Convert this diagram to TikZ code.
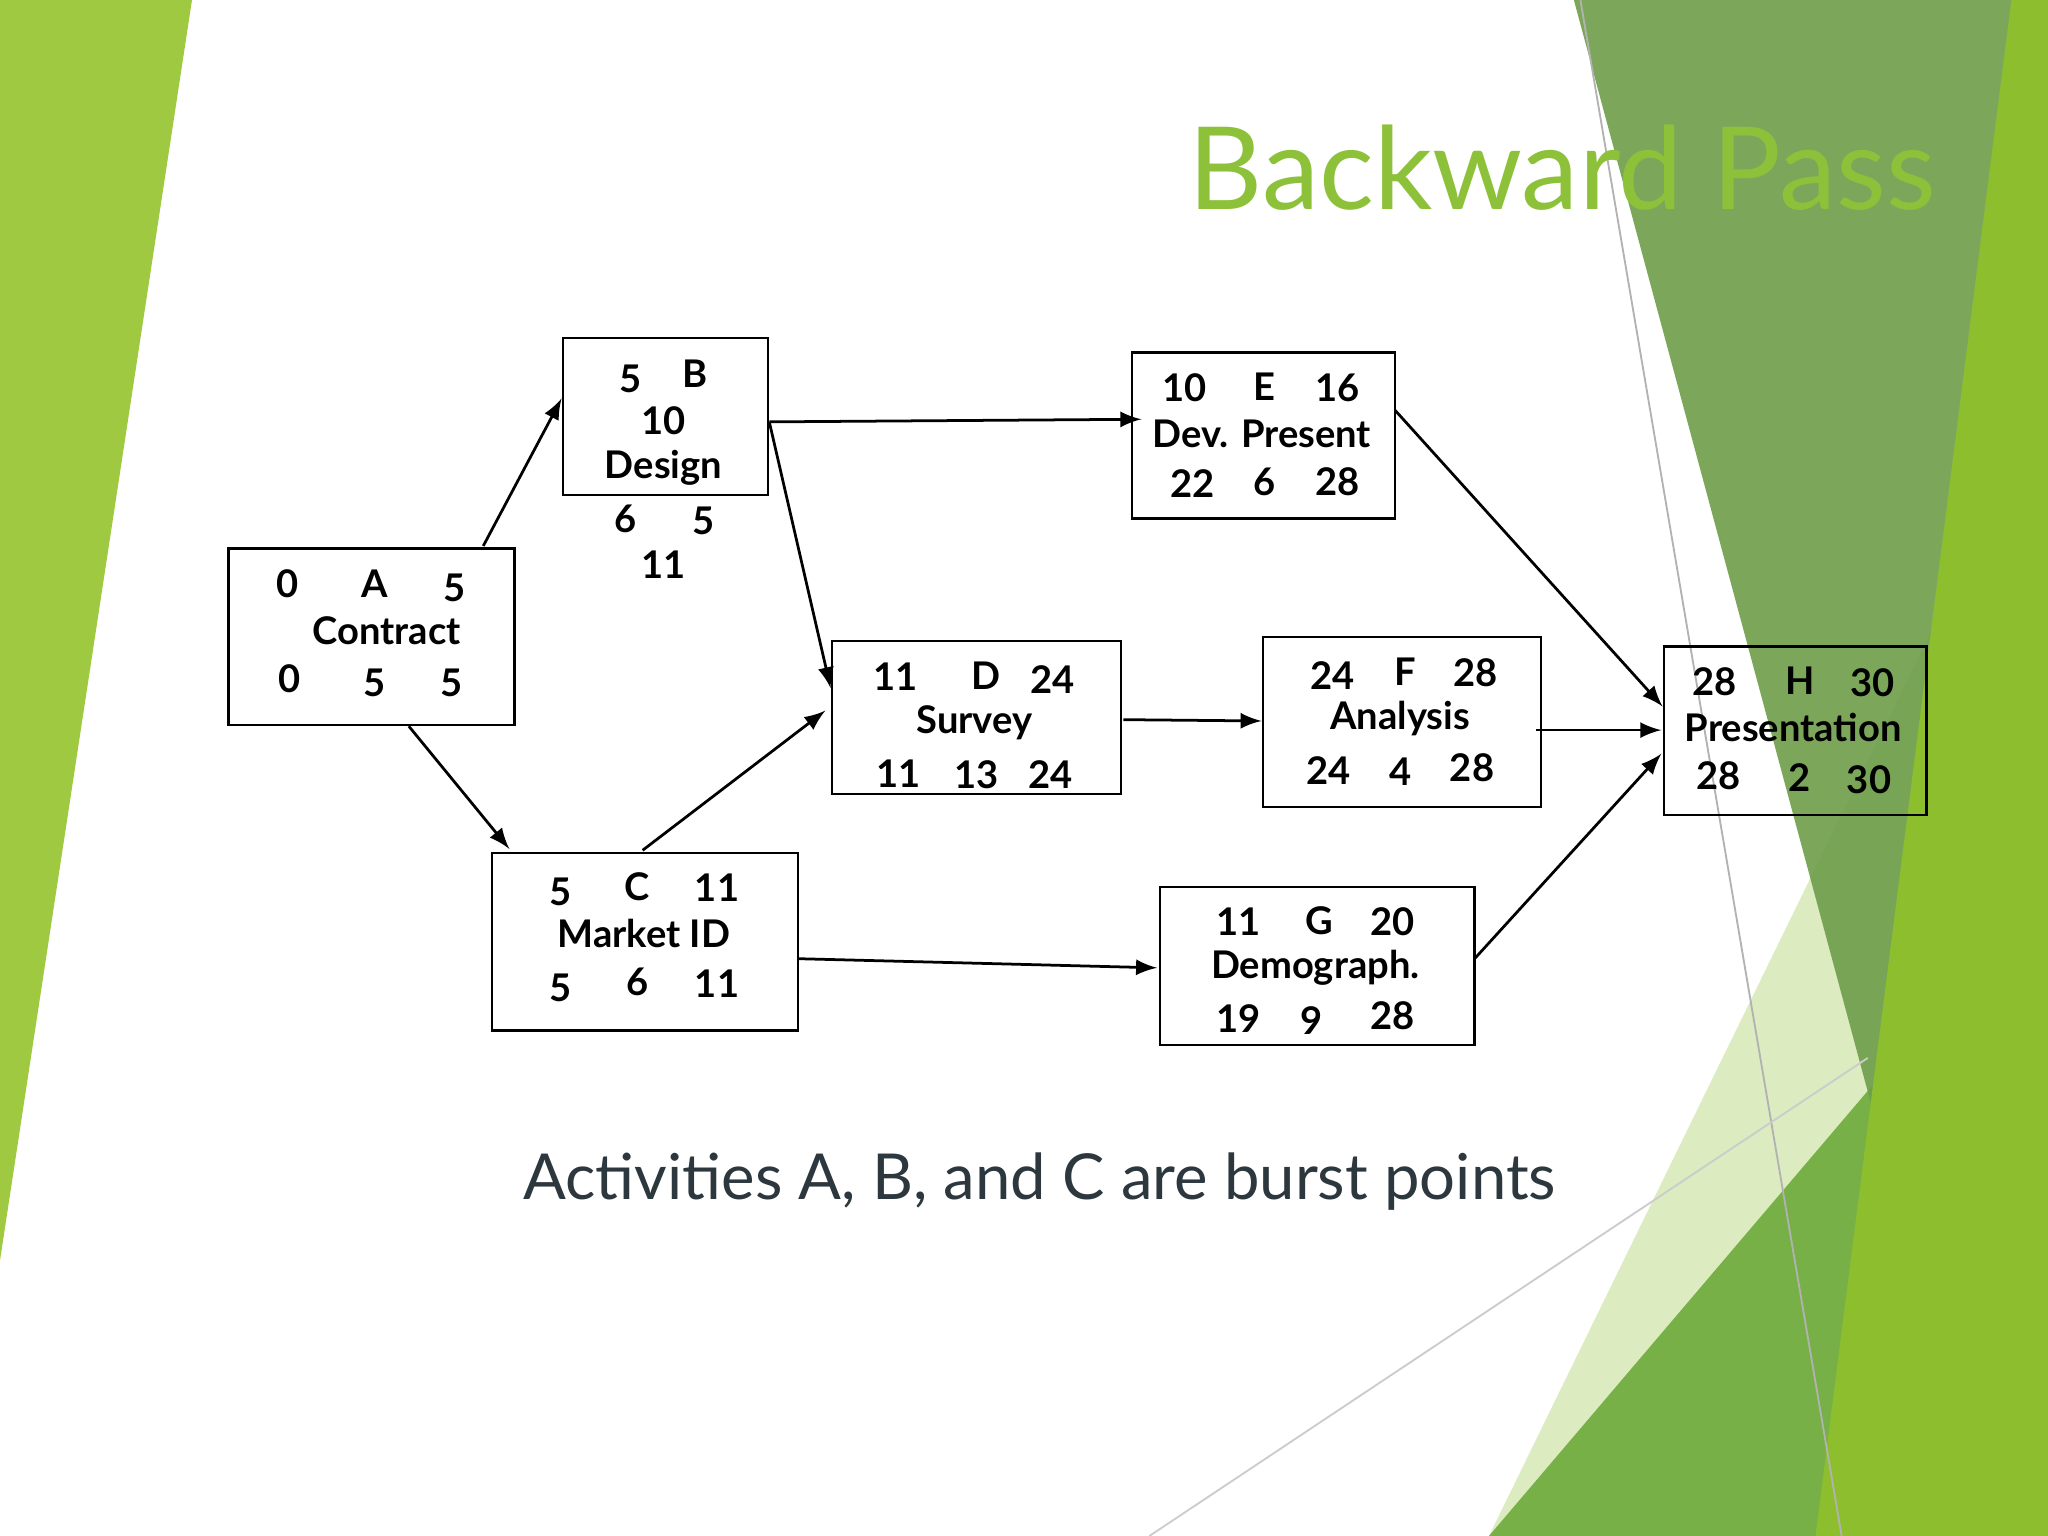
\documentclass[tikz,border=0pt]{standalone}
\usepackage{fontspec}
\setmainfont{Lato}
\begin{document}
\begin{tikzpicture}[x=0.01cm,y=-0.01cm,
 box/.style={draw,line width=0.5pt,anchor=north west,inner sep=0pt},
 t/.style={font=\fontsize{8.3}{10}\selectfont\bfseries},
 arr/.style={-latex,line width=0.6pt}]
\useasboundingbox (0,0) rectangle (1568,1176);
% background
\fill[white] (0,0) rectangle (1568,1176);
\fill[fill={rgb,255:red,160;green,201;blue,66}] (0,0)--(147,0)--(0,965)--cycle;
\fill[fill={rgb,255:red,220;green,235;blue,192}] (1568,300)--(1568,1176)--(1140,1176)--cycle;
\fill[fill={rgb,255:red,118;green,176;blue,70}] (1140,1176)--(1460,800)--(1568,700)--(1568,1176)--cycle;
\fill[fill={rgb,255:red,110;green,158;blue,74},opacity=0.9] (1205,0)--(1568,0)--(1568,520)--(1475,680)--(1450,910)--cycle;
\fill[fill={rgb,255:red,141;green,190;blue,46}] (1540,0)--(1568,0)--(1568,1176)--(1390,1176)--cycle;
\draw[gray!60,line width=0.4pt] (1210,0)--(1410,1176);
\draw[gray!40,line width=0.4pt] (880,1176)--(1430,810);
% title
\node[text={rgb,255:red,141;green,193;blue,58},font=\fontsize{25}{30}\selectfont] (title) at (1196,128) {Backward Pass};
% boxes
\node[box,minimum width=2.19cm,minimum height=1.35cm] (A) at (174,419) {};
\node[box,minimum width=1.57cm,minimum height=1.20cm] (B) at (430,258) {};
\node[box,minimum width=2.01cm,minimum height=1.27cm] (E) at (866,269) {};
\node[box,minimum width=2.21cm,minimum height=1.17cm] (D) at (636,490) {};
\node[box,minimum width=2.13cm,minimum height=1.30cm] (F) at (966,487) {};
\node[box,minimum width=2.01cm,minimum height=1.29cm] (H) at (1273,494) {};
\node[box,minimum width=2.34cm,minimum height=1.36cm] (C) at (376,652) {};
\node[box,minimum width=2.41cm,minimum height=1.21cm] (G) at (887,678) {};
% texts
\foreach \n/\x/\y/\s in {a1/220/447/0,a2/287/447/A,a3/348/450/5,a4/296/483/Contract,a5/222/520/0,a6/287/523/5,a7/346/523/5,
 b1/483/290/5,b2/532/286/B,b3/508/322/10,b4/508/358/Design,b5/479/397/6,b6/539/399/5,b7/508/432/11,
 e1/907/297/10,e2/968/296/E,e3/1024/297/16,e4/966/332/Dev. Present,e5/913/370/22,e6/968/369/6,e7/1024/369/28,
 d1/686/518/11,d2/755/517/D,d3/806/520/24,d4/746/553/Survey,d5/688/592/11,d6/748/593/13,d7/804/593/24,
 f1/1020/517/24,f2/1076/514/F,f3/1130/515/28,f4/1072/550/Analysis,f5/1017/590/24,f6/1072/591/4,f7/1127/588/28,
 h1/1313/522/28,h2/1378/521/H,h3/1434/523/30,h4/1373/557/Presentation,h5/1316/594/28,h6/1378/595/2,h7/1431/597/30,
 c1/429/683/5,c2/488/679/C,c3/549/680/11,c4/493/715/Market ID,c5/429/756/5,c6/488/752/6,c7/549/753/11,
 g1/948/706/11,g2/1010/705/G,g3/1066/706/20,g4/1007/741/Demograph.,g5/948/780/19,g6/1004/781/9,g7/1066/778/28}
 \node[t] (\n) at (\x,\y) {\s};
% connectors
\foreach \n/\x/\y in {pa1/370/418,pb1/430/305,pa2/313/556,pc1/390/650,pb2/589/323,pe1/874/321,pd1/636/527,
 pc2/492/651,pd2/632/544,pd3/860/551,pf1/966/552,pe2/1068/314,ph1/1273/541,pf2/1176/559,ph2/1272/559,
 pc3/611/734,pg1/886/741,pg2/1129/734,ph3/1272/577}
 \coordinate (\n) at (\x,\y);
\draw[arr] (pa1)--(pb1);
\draw[arr] (pa2)--(pc1);
\draw[arr] (pb2)--(pe1);
\draw[arr] (pb2)--(pd1);
\draw[arr] (pc2)--(pd2);
\draw[arr] (pd3)--(pf1);
\draw[arr] (pe2)--(ph1);
\draw[arr] (pf2)--(ph2);
\draw[arr] (pc3)--(pg1);
\draw[arr] (pg2)--(ph3);
\node[text={rgb,255:red,45;green,55;blue,62},font=\fontsize{13.8}{17}\selectfont] (cap) at (796,905) {Activities A, B, and C are burst points};
\end{tikzpicture}
\end{document}
